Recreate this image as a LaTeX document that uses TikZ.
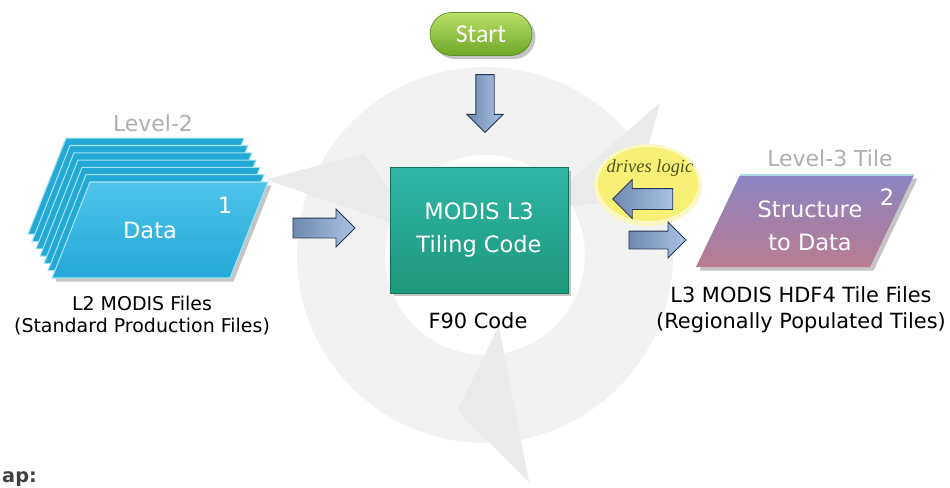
\documentclass[tikz,border=0pt]{standalone}
\usepackage{fontspec}
\setmainfont{DejaVu Sans}
\newfontfamily\pillfont{Carlito}
\newfontfamily\notefont{Liberation Serif}
\usetikzlibrary{positioning, shapes.arrows, shadows}
\definecolor{ringgray}{RGB}{242,242,242}
\definecolor{headgray}{RGB}{235,235,235}
\definecolor{lvlgray}{RGB}{175,175,175}
\definecolor{datablue}{RGB}{36,168,214}
\definecolor{datatop}{RGB}{78,196,234}
\definecolor{dataedge}{RGB}{165,228,245}
\definecolor{tealtop}{RGB}{46,182,166}
\definecolor{tealbot}{RGB}{30,152,122}
\definecolor{tealedge}{RGB}{22,112,96}
\definecolor{starttop}{RGB}{186,224,104}
\definecolor{startbot}{RGB}{108,168,38}
\definecolor{startedge}{RGB}{92,140,40}
\definecolor{arrdark}{RGB}{52,80,124}
\definecolor{arrlight}{RGB}{170,194,228}
\definecolor{arrline}{RGB}{40,55,85}
\definecolor{purtop}{RGB}{140,132,196}
\definecolor{purbot}{RGB}{186,124,144}
\definecolor{purhl}{RGB}{172,214,236}
\definecolor{blobyellow}{RGB}{246,241,118}
\definecolor{noteolive}{RGB}{82,82,30}

\begin{document}
\begin{tikzpicture}[x=0.02cm, y=-0.02cm,
  lbl/.style={font=\fontsize{10.8}{12.5}\selectfont, align=center},
  lbltwo/.style={font=\fontsize{11.9}{14.7}\selectfont, align=center},
  lvl/.style={font=\fontsize{12.5}{15}\selectfont, text=lvlgray},
  inbox/.style={text=white, font=\fontsize{12.8}{18.5}\selectfont, align=center},
  blk/.style={single arrow, draw=arrline, line width=0.5pt,
              left color=arrlight!50!arrdark, middle color=arrdark, right color=arrlight,
              inner xsep=0pt, inner ysep=#1, single arrow head extend=0.18cm,
              minimum width=0pt},
  shad/.style={drop shadow={shadow xshift=0.07cm, shadow yshift=-0.07cm, opacity=0.45}}
]
\useasboundingbox (0,0) rectangle (950,487);
\fill[white] (0,0) rectangle (950,487);

% background cycle
\begin{scope}[shift={(485,255)}, yscale=-1]
  \fill[ringgray, even odd rule] (0,0) circle[radius=188] (0,0) circle[radius=100];
  \foreach \b in {41,161,281}
    \fill[headgray] (\b:232) -- ({\b-21}:158) -- (\b:72) -- cycle;
\end{scope}

% level-2 stack
\foreach \k in {6,...,1}
  \fill[datablue, draw=dataedge, line width=0.6pt] ({90-4*\k},{182-7.3*\k}) -- ++(178,0) -- ++(-38,96) -- ++(-178,0) -- cycle;
\shade[top color=datatop, bottom color=datablue, draw=dataedge, line width=0.6pt, shad]
  (90,182) -- ++(178,0) -- ++(-38,96) -- ++(-178,0) -- cycle;
\node[inbox] (data) at (150,230) {Data};
\node[inbox] (one) at (225,205) {1};

% level-3 tile
\shade[top color=purtop, bottom color=purbot, shad] (740,175) -- (914,175) -- (870,267) -- (696,267) -- cycle;
\draw[purhl, line width=1pt] (740,175) -- (914,175);
\node[inbox] (struct) at (810,226) {Structure\\to Data};
\node[inbox] (two) at (887,197) {2};

% tiling code
\node[draw=tealedge, top color=tealtop, bottom color=tealbot, minimum width=3.56cm,
      minimum height=2.52cm, inbox, shad] (tiling) at (479,230) {MODIS L3\\Tiling Code};
\node[rounded corners=0.43cm, minimum width=2.04cm, minimum height=0.86cm, top color=starttop,
      bottom color=startbot, draw=startedge, shad, text=white,
      font=\pillfont\fontsize{14.7}{16}\selectfont] (start) at (481,34) {Start};

% drives logic
\fill[blobyellow!45] (648,185) ellipse[x radius=54, y radius=41];
\fill[blobyellow] (648,184) ellipse[x radius=50, y radius=37];
\node[font=\notefont\itshape\fontsize{10.5}{12}\selectfont, text=noteolive] (drives) at (650,168) {drives logic};

% block arrows
\node[blk=0.175cm, minimum height=1.16cm, rotate=-90] (arrstart) at (485,99) {};
\node[blk=0.19cm, minimum height=1.24cm] (arrin) at (319,228) {};
\node[blk=0.2cm, minimum height=1.2cm, rotate=180] (arrlogic) at (648,199) {};
\node[blk=0.17cm, minimum height=1.14cm] (arrout) at (653,240) {};

% labels
\node[lvl] (lvltwo) at (153,123) {Level-2};
\node[lvl] (lvlthree) at (830,158) {Level-3 Tile};
\node[lbl] (l2files) at (142,316) {L2 MODIS Files\\(Standard Production Files)};
\node[lbltwo] (f90) at (478,321) {F90 Code};
\node[lbltwo] (l3files) at (801,310) {L3 MODIS HDF4 Tile Files\\(Regionally Populated Tiles)};
\node[anchor=base west, font=\bfseries\fontsize{11}{13}\selectfont, text=black!75] (mapkey) at (-4,482) {ap:};
\end{tikzpicture}
\end{document}
